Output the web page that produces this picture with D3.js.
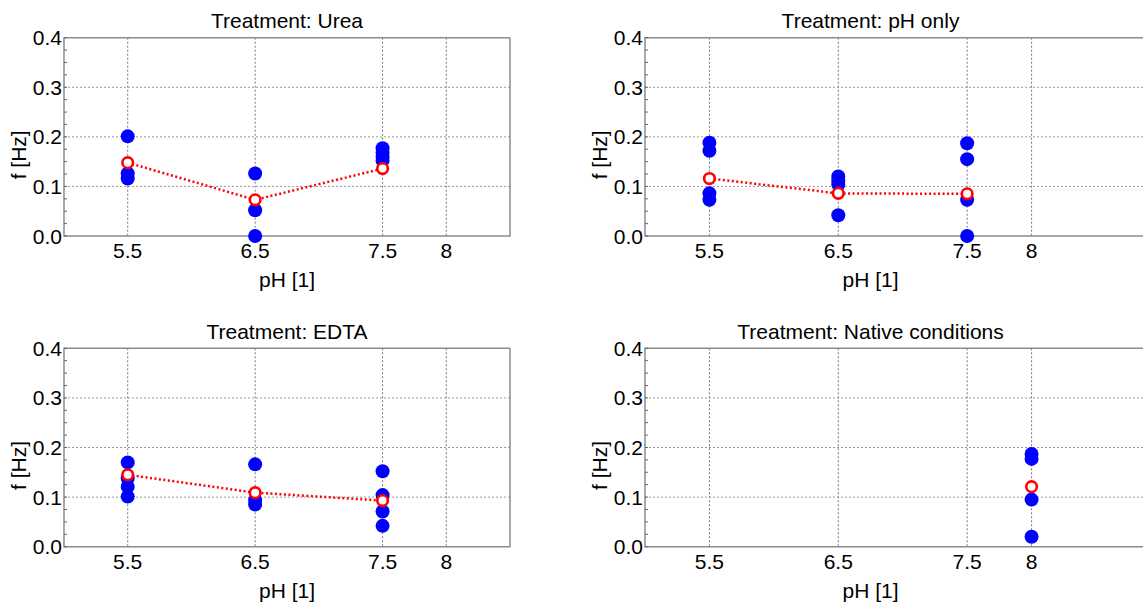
<!DOCTYPE html>
<html><head><meta charset="utf-8">
<script src="https://cdn.jsdelivr.net/npm/d3@7"></script>
<style>
body{margin:0;background:#fff;}
svg{display:block;font-family:"Liberation Sans",Arial,sans-serif;}
</style></head><body>
<svg id="c" width="1143" height="609"></svg>
<script>
// ---- data ----
const phTicks = [5.5, 6.5, 7.5, 8];
const phTickLabels = ["5.5", "6.5", "7.5", "8"];
const fTicks = [0.0, 0.1, 0.2, 0.3, 0.4];
const fTickLabels = ["0.0", "0.1", "0.2", "0.3", "0.4"];
const treatments = ["Urea", "pH only", "EDTA", "Native conditions"];

const ureaPH = [5.5, 5.5, 5.5, 6.5, 6.5, 6.5, 7.5, 7.5, 7.5, 7.5];
const ureaF  = [0.201, 0.126, 0.116, 0.126, 0.052, 0.0, 0.177, 0.168, 0.160, 0.152];
const ureaMeanPH = [5.5, 6.5, 7.5];
const ureaMeanF  = [0.148, 0.073, 0.136];

const phOnlyPH = [5.5, 5.5, 5.5, 5.5, 6.5, 6.5, 6.5, 6.5, 7.5, 7.5, 7.5, 7.5];
const phOnlyF  = [0.188, 0.172, 0.086, 0.073, 0.120, 0.112, 0.104, 0.042, 0.187, 0.155, 0.073, 0.0];
const phOnlyMeanPH = [5.5, 6.5, 7.5];
const phOnlyMeanF  = [0.116, 0.086, 0.085];

const edtaPH = [5.5, 5.5, 5.5, 5.5, 6.5, 6.5, 6.5, 7.5, 7.5, 7.5, 7.5];
const edtaF  = [0.170, 0.138, 0.121, 0.101, 0.166, 0.094, 0.085, 0.152, 0.104, 0.071, 0.042];
const edtaMeanPH = [5.5, 6.5, 7.5];
const edtaMeanF  = [0.145, 0.109, 0.093];

const nativePH = [8, 8, 8, 8];
const nativeF  = [0.187, 0.177, 0.095, 0.020];
const nativeMeanPH = [8];
const nativeMeanF  = [0.121];

const panelPts = [[ureaPH, ureaF], [phOnlyPH, phOnlyF], [edtaPH, edtaF], [nativePH, nativeF]];
const panelMeans = [[ureaMeanPH, ureaMeanF], [phOnlyMeanPH, phOnlyMeanF], [edtaMeanPH, edtaMeanF], [nativeMeanPH, nativeMeanF]];

// ---- layout ----
const svg = d3.select("#c");
const cols = [{l:64, r:510, frameR:510}, {l:645, r:1096, frameR:1150}];
const rows = [{t:37.7, b:236}, {t:348.3, b:546.7}];
const gridColor = "#9a9a9a", axisColor = "#8c8c8c";
const FS = 21;

treatments.forEach((name, i) => {
  const c = cols[i % 2], r = rows[Math.floor(i / 2)];
  const x = d3.scaleLinear().domain([5, 8.5]).range([c.l, c.r]);
  const y = d3.scaleLinear().domain([0, 0.4]).range([r.b, r.t]);
  const g = svg.append("g");
  const cx = (c.l + c.r) / 2;

  // grid
  g.selectAll(".gy").data(fTicks.slice(1, -1)).join("line")
    .attr("x1", c.l).attr("x2", c.frameR).attr("y1", d => y(d)).attr("y2", d => y(d))
    .attr("stroke", gridColor).attr("stroke-width", 1).attr("stroke-dasharray", "2,2");
  g.selectAll(".gx").data(phTicks).join("line")
    .attr("x1", d => x(d)).attr("x2", d => x(d)).attr("y1", r.t).attr("y2", r.b)
    .attr("stroke", "#777").attr("stroke-width", 1).attr("stroke-dasharray", "2,2");

  // frame
  g.append("path")
    .attr("d", `M${c.frameR},${r.t}H${c.l}V${r.b}H${c.frameR}` + (c.frameR === c.r ? `V${r.t}` : ""))
    .attr("fill", "none").attr("stroke", axisColor).attr("stroke-width", 1.5);

  // minor ticks on left axis (inward)
  g.selectAll(".mt").data(d3.range(0, 0.4001, 0.025)).join("line")
    .attr("x1", c.l).attr("x2", c.l + 3).attr("y1", d => y(d)).attr("y2", d => y(d))
    .attr("stroke", "#666").attr("stroke-width", 1);

  // y tick labels
  g.selectAll(".yl").data(fTicks).join("text")
    .attr("x", c.l - 2).attr("y", d => y(d) + 7.5).attr("text-anchor", "end")
    .attr("font-size", FS).attr("fill", "#000").text((d, k) => fTickLabels[k]);
  // x tick labels
  g.selectAll(".xl").data(phTicks).join("text")
    .attr("x", d => x(d)).attr("y", r.b + 22).attr("text-anchor", "middle")
    .attr("font-size", FS).attr("fill", "#000").text((d, k) => phTickLabels[k]);

  // title
  g.append("text").attr("x", cx).attr("y", r.t - 9.5).attr("text-anchor", "middle")
    .attr("font-size", FS).attr("fill", "#000").text("Treatment: " + name);
  // axis labels
  g.append("text").attr("x", cx).attr("y", r.b + 51).attr("text-anchor", "middle")
    .attr("font-size", FS).attr("fill", "#000").text("pH [1]");
  g.append("text").attr("transform", `translate(${c.l - 38},${(r.t + r.b) / 2 + 18}) rotate(-90)`)
    .attr("text-anchor", "middle").attr("font-size", FS).attr("fill", "#000").text("f [Hz]");

  // points
  const [px, py] = panelPts[i];
  g.selectAll(".pt").data(px.map((v, k) => [v, py[k]])).join("circle")
    .attr("cx", d => x(d[0])).attr("cy", d => y(d[1])).attr("r", 7).attr("fill", "#0000ff");

  // means
  const [mx, my] = panelMeans[i];
  const md = mx.map((v, k) => [v, my[k]]);
  if (md.length > 1) {
    g.append("path").datum(md)
      .attr("d", d3.line().x(d => x(d[0])).y(d => y(d[1])))
      .attr("fill", "none").attr("stroke", "#ff0000").attr("stroke-width", 2.5)
      .attr("stroke-dasharray", "2,2.5");
  }
  g.selectAll(".mn").data(md).join("circle")
    .attr("cx", d => x(d[0])).attr("cy", d => y(d[1])).attr("r", 5.3)
    .attr("fill", "#fff").attr("stroke", "#ff0000").attr("stroke-width", 2.6);
});
</script>
</body></html>
